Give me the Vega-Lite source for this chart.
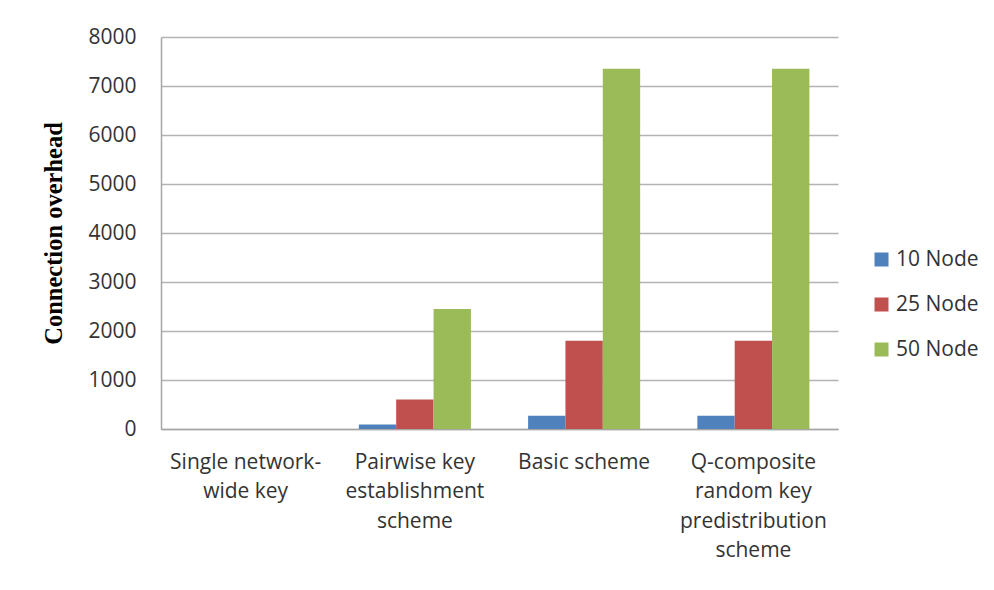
{
  "$schema": "https://vega.github.io/schema/vega-lite/v6.json",
  "width": 677,
  "height": 392,
  "autosize": {"type": "none"},
  "padding": {"left": 161, "top": 37, "right": 156, "bottom": 161},
  "background": "white",
  "data": {
    "values": [
      {"scheme": "Single network-wide key", "nodes": "10 Node", "overhead": 0},
      {"scheme": "Single network-wide key", "nodes": "25 Node", "overhead": 0},
      {"scheme": "Single network-wide key", "nodes": "50 Node", "overhead": 0},
      {"scheme": "Pairwise key establishment scheme", "nodes": "10 Node", "overhead": 90},
      {"scheme": "Pairwise key establishment scheme", "nodes": "25 Node", "overhead": 600},
      {"scheme": "Pairwise key establishment scheme", "nodes": "50 Node", "overhead": 2450},
      {"scheme": "Basic scheme", "nodes": "10 Node", "overhead": 270},
      {"scheme": "Basic scheme", "nodes": "25 Node", "overhead": 1800},
      {"scheme": "Basic scheme", "nodes": "50 Node", "overhead": 7350},
      {"scheme": "Q-composite random key predistribution scheme", "nodes": "10 Node", "overhead": 270},
      {"scheme": "Q-composite random key predistribution scheme", "nodes": "25 Node", "overhead": 1800},
      {"scheme": "Q-composite random key predistribution scheme", "nodes": "50 Node", "overhead": 7350}
    ]
  },
  "mark": {"type": "bar"},
  "encoding": {
    "x": {
      "field": "scheme",
      "type": "nominal",
      "sort": null,
      "scale": {"paddingInner": 0.338, "paddingOuter": 0.169},
      "axis": {
        "title": null,
        "labelAngle": 0,
        "labelFont": "Open Sans",
        "labelFontSize": 21,
        "labelColor": "#333333",
        "labelLineHeight": 29.5,
        "labelPadding": 22,
        "tickSize": 0,
        "domainColor": "#a6a6a6",
        "domainWidth": 1.5,
        "labelLimit": 300,
        "labelExpr": "datum.value == 'Single network-wide key' ? ['Single network-', 'wide key'] : datum.value == 'Pairwise key establishment scheme' ? ['Pairwise key', 'establishment', 'scheme'] : datum.value == 'Q-composite random key predistribution scheme' ? ['Q-composite', 'random key', 'predistribution', 'scheme'] : datum.value"
      }
    },
    "xOffset": {"field": "nodes", "type": "nominal", "scale": {"paddingInner": 0, "paddingOuter": 0}},
    "y": {
      "field": "overhead",
      "type": "quantitative",
      "scale": {"domain": [0, 8000], "nice": false},
      "axis": {
        "title": "Connection overhead",
        "titleFont": "Liberation Serif",
        "titleFontWeight": "bold",
        "titleFontSize": 24.5,
        "titleColor": "#000000",
        "titleX": -107,
        "titleY": 196,
        "titleBaseline": "middle",
        "titleAlign": "center",
        "titleAngle": -90,
        "values": [0, 1000, 2000, 3000, 4000, 5000, 6000, 7000, 8000],
        "format": "d",
        "labelFont": "Open Sans",
        "labelFontSize": 21,
        "labelColor": "#333333",
        "labelPadding": 25,
        "tickSize": 0,
        "grid": true,
        "gridColor": "#b3b3b3",
        "gridWidth": 1.5,
        "domainColor": "#a6a6a6",
        "domainWidth": 1.5
      }
    },
    "color": {
      "field": "nodes",
      "type": "nominal",
      "scale": {"domain": ["10 Node", "25 Node", "50 Node"], "range": ["#4F81BD", "#C0504D", "#9BBB59"]},
      "legend": {
        "title": null,
        "orient": "none",
        "legendX": 710,
        "legendY": 212,
        "symbolType": "square",
        "symbolSize": 196,
        "symbolStrokeWidth": 0,
        "labelFont": "Open Sans",
        "labelFontSize": 21,
        "labelColor": "#333333",
        "labelOffset": 4,
        "rowPadding": 23
      }
    }
  },
  "config": {
    "view": {"stroke": null},
    "axis": {"labelFontWeight": "normal"}
  }
}
